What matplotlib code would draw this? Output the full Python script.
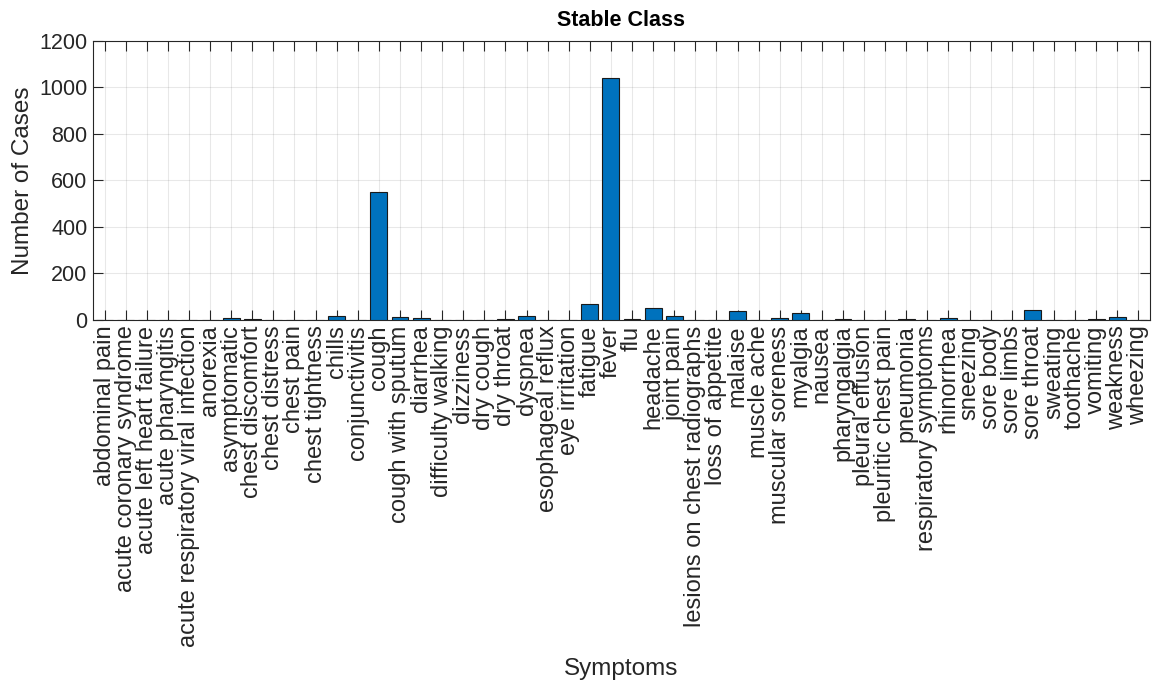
import numpy as np
import matplotlib
matplotlib.use("Agg")
from matplotlib import pyplot as plt

symptoms = [
    "abdominal pain", "acute coronary syndrome", "acute left heart failure",
    "acute pharyngitis", "acute respiratory viral infection", "anorexia",
    "asymptomatic", "chest discomfort", "chest distress", "chest pain",
    "chest tightness", "chills", "conjunctivitis", "cough", "cough with sputum",
    "diarrhea", "difficulty walking", "dizziness", "dry cough", "dry throat",
    "dyspnea", "esophageal reflux", "eye irritation", "fatigue", "fever", "flu",
    "headache", "joint pain", "lesions on chest radiographs", "loss of appetite",
    "malaise", "muscle ache", "muscular soreness", "myalgia", "nausea",
    "pharyngalgia", "pleural effusion", "pleuritic chest pain", "pneumonia",
    "respiratory symptoms", "rhinorrhea", "sneezing", "sore body", "sore limbs",
    "sore throat", "sweating", "toothache", "vomiting", "weakness", "wheezing",
]
cases = [
    0, 0, 0,
    0, 0, 0,
    7, 6, 0, 0,
    0, 19, 0, 550, 14,
    7, 0, 0, 0, 4,
    16, 0, 0, 69, 1040, 5,
    50, 19, 0, 0,
    40, 0, 10, 32, 0,
    4, 0, 0, 4,
    0, 10, 0, 0, 0,
    42, 0, 0, 4, 14, 0,
]
y_ticks = [0, 200, 400, 600, 800, 1000, 1200]

plt.rcParams["font.family"] = ["Liberation Sans", "DejaVu Sans"]
txt = "#262626"

fig = plt.figure(figsize=(11.67, 6.83), dpi=100)
ax = fig.add_axes([0.0797, 0.5315, 0.9057, 0.4085])

x = np.arange(len(symptoms))
ax.bar(x, cases, width=0.8, color="#0072BD", edgecolor="#1a1a1a", linewidth=0.8, zorder=3)

ax.set_xlim(-0.55, len(symptoms) - 0.45)
ax.set_ylim(0, 1200)
ax.set_xticks(x)
ax.set_xticklabels(symptoms, rotation=90, fontsize=17, color=txt)
ax.set_yticks(y_ticks)
ax.set_yticklabels([str(v) for v in y_ticks], fontsize=15.5, color=txt)

ax.tick_params(direction="in", top=True, right=True, length=7.5, width=0.8, color="#262626", pad=4)
ax.grid(True, color="#262626", alpha=0.1, linewidth=0.8, zorder=0)
for s in ax.spines.values():
    s.set_color("#262626")
    s.set_linewidth(0.8)

ax.set_xlabel("Symptoms", fontsize=17.5, color=txt, labelpad=8)
ax.set_ylabel("Number of Cases", fontsize=17.5, color=txt)
ax.set_title("Stable Class", fontsize=15.5, fontweight="bold", color="black", pad=11)

fig.savefig("out.png", dpi=100)
